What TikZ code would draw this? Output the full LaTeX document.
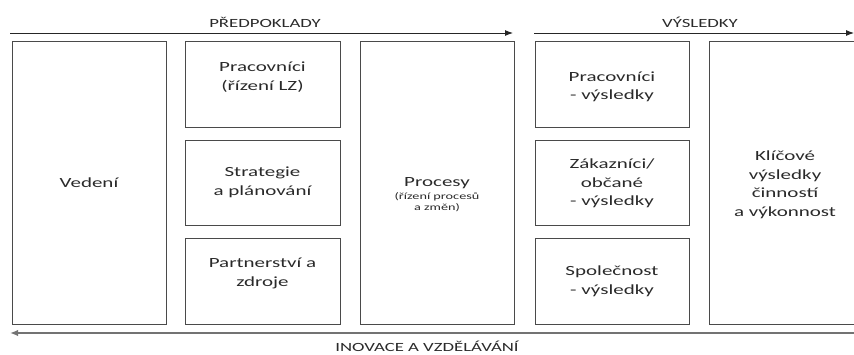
\documentclass[tikz,border=0pt]{standalone}
\usepackage{fontspec}
\setmainfont[FakeStretch=1.5]{Carlito}
\usetikzlibrary{arrows.meta}
\definecolor{txt}{HTML}{2A2A2A}
\definecolor{edge}{HTML}{4A4A4A}
\tikzset{
  box/.style={draw=edge, line width=1.1pt, minimum width=154pt, inner sep=0pt, anchor=north west},
  lbl/.style={text=txt, align=center, inner sep=0pt, font=\fontsize{14}{18.5}\selectfont},
  small/.style={text=txt, align=center, inner sep=0pt, font=\fontsize{9.5}{11}\selectfont},
  head/.style={text=txt, inner sep=0pt, font=\fontsize{12.5}{14}\selectfont},
  toparrow/.style={draw=black!85, line width=0.9pt, -{Latex[length=8pt,width=6pt]}},
  botarrow/.style={draw=black!55, line width=1.8pt, -{Latex[length=8pt,width=6.5pt]}},
}
\begin{document}
\begin{tikzpicture}[x=1pt,y=-1pt]
\useasboundingbox (0,0) rectangle (854,354);
% columns
\node[box, minimum height=283pt] (vedeni) at (12,41) {};
\node[box, minimum width=155pt, minimum height=86pt] (prac) at (185,41) {};
\node[box, minimum width=155pt, minimum height=85pt] (strat) at (185,140) {};
\node[box, minimum width=155pt, minimum height=86pt] (partn) at (185,238) {};
\node[box, minimum height=283pt] (proc) at (360,41) {};
\node[box, minimum height=86pt] (pracv) at (535,41) {};
\node[box, minimum height=85pt] (zak) at (535,140) {};
\node[box, minimum height=86pt] (spol) at (535,238) {};
\node[box, minimum height=283pt] (klic) at (709,41) {};
% texts
\node[lbl] (tved) at (89,183) {Vedení};
\node[lbl] (tprac) at (262.5,77) {Pracovníci\\(řízení LZ)};
\node[lbl] (tstrat) at (262.5,182.5) {Strategie\\a plánování};
\node[lbl] (tpartn) at (262.5,273.5) {Partnerství a\\zdroje};
\node[lbl] (tproc) at (437,183) {Procesy};
\node[small] (tproc2) at (437,202) {(řízení procesů\\a změn)};
\node[lbl] (tpracv) at (612,87) {Pracovníci\\- výsledky};
\node[lbl] (tzak) at (612,183.5) {Zákazníci/\\občané\\- výsledky};
\node[lbl] (tspol) at (612,281.5) {Společnost\\- výsledky};
\node[lbl] (tklic) at (785,185) {Klíčové\\výsledky\\činností\\a výkonnost};
% arrows and headings
\coordinate (a1s) at (10,33);
\coordinate (a1e) at (513,33);
\coordinate (a2s) at (534,33);
\coordinate (a2e) at (854,33);
\coordinate (a3s) at (856,333);
\coordinate (a3e) at (10,333);
\draw[toparrow] (a1s) -- (a1e);
\draw[toparrow] (a2s) -- (a2e);
\draw[botarrow] (a3s) -- (a3e);
\node[head] (hpred) at (265,22) {PŘEDPOKLADY};
\node[head] (hvys) at (700,22) {VÝSLEDKY};
\node[head] (hinov) at (427,346) {INOVACE A VZDĚLÁVÁNÍ};
\end{tikzpicture}
\end{document}
